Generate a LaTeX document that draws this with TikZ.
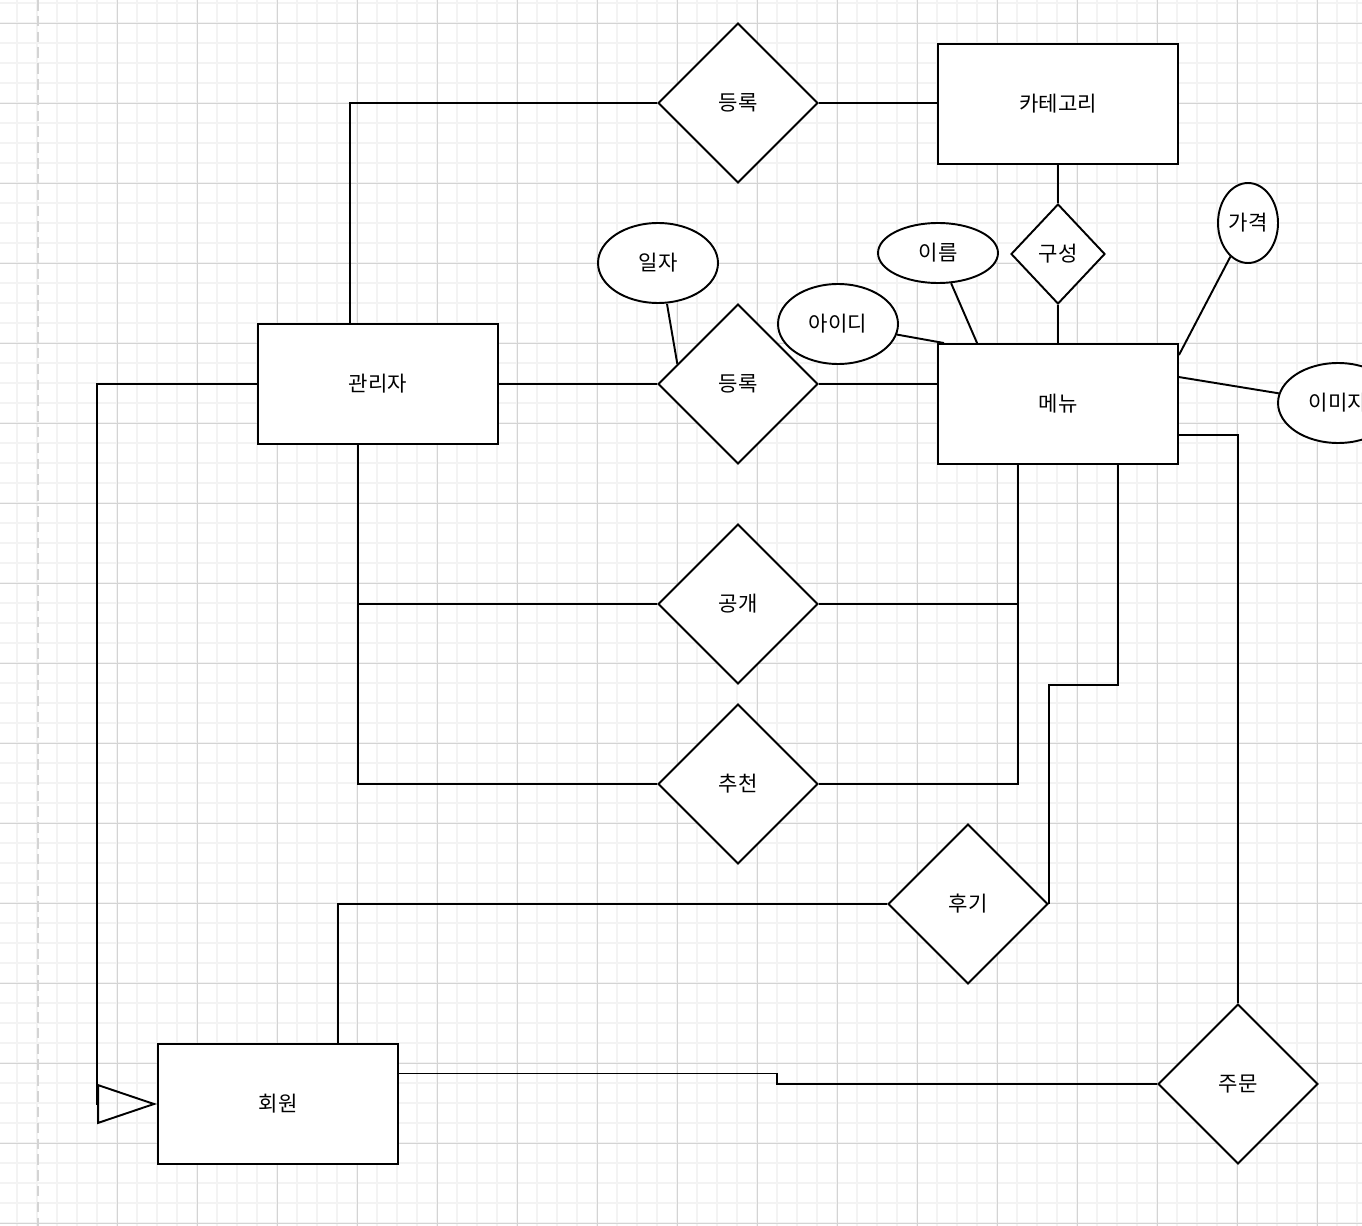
\documentclass[tikz,border=0pt]{standalone}
\usepackage{fontspec}
\newfontfamily\krfont{Noto Sans CJK KR}
\definecolor{gridminor}{RGB}{243, 243, 243}
\definecolor{gridmajor}{RGB}{212, 212, 212}
\usepackage{tikz}
\usetikzlibrary{shapes.geometric, arrows.meta, positioning, calc}

\begin{document}
\begin{tikzpicture}[
  x=0.02cm, y=-0.02cm,
  every node/.style={font=\krfont\fontsize{12}{14}\selectfont},
  entity/.style={draw, line width=1.1pt, fill=white, minimum width=4.8cm, minimum height=2.4cm, inner sep=0pt},
  relation/.style={draw, diamond, line width=1.1pt, fill=white, minimum width=3.2cm, minimum height=3.2cm, inner sep=0pt},
  attrib/.style={draw, ellipse, line width=1.1pt, fill=white, minimum width=2.4cm, minimum height=1.6cm, inner sep=0pt},
  link/.style={line width=1.1pt},
  inherit/.style={line width=1.1pt, -{Triangle[open, length=1.2cm, width=0.8cm]}}
]
  \useasboundingbox (0,0) rectangle (1362,1226);
  \clip (0,0) rectangle (1362,1226);

  % background grid
  \foreach \gx in {17,37,...,1362} \draw[gridminor, line width=0.7pt] (\gx,0) -- (\gx,1226);
  \foreach \gy in {3,23,...,1226} \draw[gridminor, line width=0.7pt] (0,\gy) -- (1362,\gy);
  \foreach \gx in {117,197,...,1362} \draw[gridmajor, line width=0.5pt] (\gx,0) -- (\gx,1226);
  \foreach \gy in {23,103,...,1226} \draw[gridmajor, line width=0.5pt] (0,\gy) -- (1362,\gy);
  \draw[gridmajor, line width=0.8pt, dash pattern=on 6pt off 3pt] (38,0) -- (38,1226);

  % entities
  \node[entity] (category) at (1058,104) {카테고리};
  \node[entity] (admin) at (378,384) {관리자};
  \node[entity] (menu) at (1058,404) {메뉴};
  \node[entity] (member) at (278,1104) {회원};

  % relations
  \node[relation] (regcat) at (738,103) {등록};
  \node[relation] (regmenu) at (738,384) {등록};
  \node[relation, minimum width=1.88cm, minimum height=2cm] (compose) at (1058,254) {구성};
  \node[relation] (open) at (738,604) {공개};
  \node[relation] (recommend) at (738,784) {추천};
  \node[relation] (review) at (968,904) {후기};
  \node[relation] (order) at (1238,1084) {주문};

  % attributes
  \node[attrib] (date) at (658,263) {일자};
  \node[attrib] (id) at (838,324) {아이디};
  \node[attrib, minimum height=1.2cm] (name) at (938,253) {이름};
  \node[attrib, minimum width=1.2cm] (price) at (1248,223) {가격};
  \node[attrib] (image) at (1338,403) {이미지};

  % connectors
  \draw[link] (regcat.east) -- (regcat.east -| category.west);
  \draw[link] (regcat.west) -| ($(admin.north)+(-28,0)$);
  \draw[link] (admin.east) -- (regmenu.west);
  \draw[link] (regmenu.east) -- (regmenu.east -| menu.west);
  \draw[link] ($(date.south)+(9,0)$) -- ($(regmenu.west)!0.25!(regmenu.north)$);
  \draw[link] (id) -- ($(menu.north west)+(7,0)$);
  \draw[link] (name) -- ($(menu.north west)+(40,0)$);
  \draw[link] (category.south) -- (compose.north);
  \draw[link] (compose.south) -- (menu.north);
  \draw[link] (price) -- ($(menu.north east)+(0,12)$);
  \draw[link] ($(menu.north east)+(0,34)$) -- (image);

  \draw[link] ($(admin.south)+(-20,0)$) |- (open.west);
  \draw[link] ($(admin.south)+(-20,0)$) |- (recommend.west);
  \draw[link] (open.east) -| ($(menu.south)+(-40,0)$);
  \draw[link] (recommend.east) -| ($(menu.south)+(-40,0)$);

  \draw[link] ($(menu.south)+(60,0)$) -- ++(0,220) -| (review.east);
  \draw[link] (review.west) -| ($(member.north)+(60,0)$);
  \draw[link] ($(menu.south east)+(0,-30)$) -| (order.north);
  \draw[link] (order.west) -- ++(-380,0) |- ($(member.north east)!0.25!(member.south east)$);

  \draw[inherit] (admin.west) -- ++(-160,0) |- (member.west);
\end{tikzpicture}
\end{document}
